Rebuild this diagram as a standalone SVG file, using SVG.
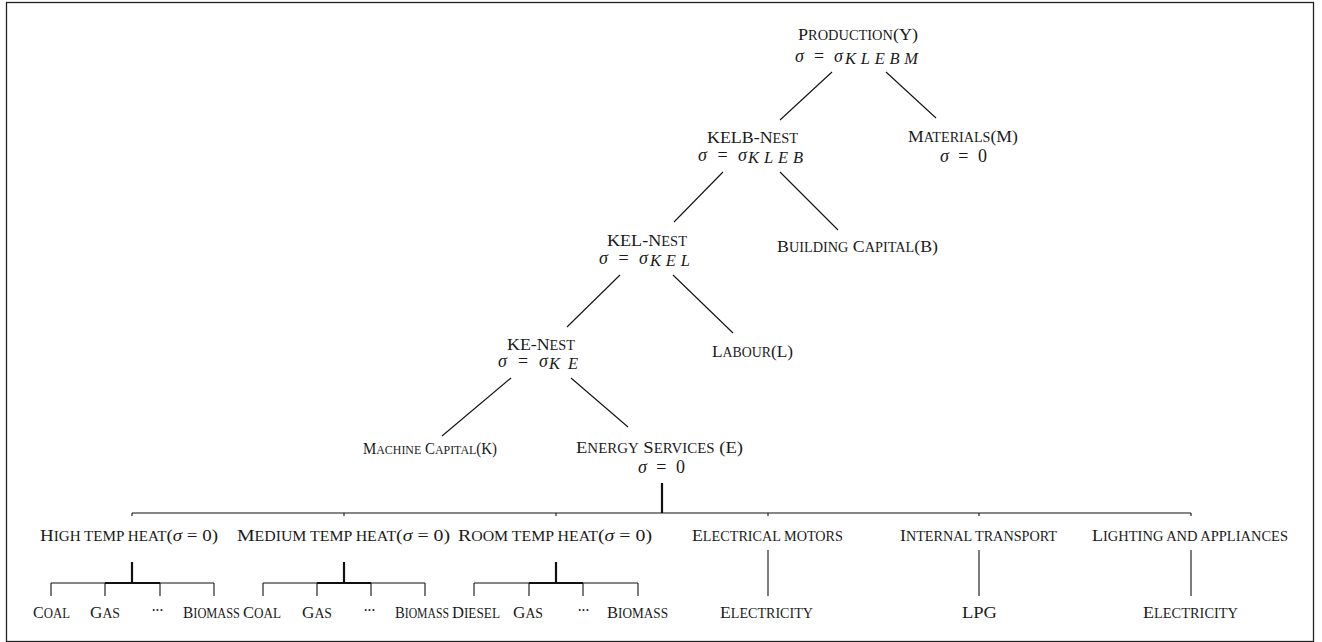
<svg xmlns="http://www.w3.org/2000/svg" width="1322" height="642" viewBox="0 0 1322 642">
<style>
text{font-family:"Liberation Serif","DejaVu Serif",serif;fill:#1a1a1a;}
.n{font-size:17px;}
.k{font-size:13.6px;}
.n2{font-size:16px;}
.k2{font-size:12.8px;}
.m{font-size:18px;}
.s{font-size:16.5px;font-style:italic;}
.i{font-style:italic;}
.d{font-size:16px;}
.c line{stroke:#111;stroke-width:1.1;}
.c .t{stroke-width:2.2;}
</style>
<rect x="6.5" y="2.5" width="1307" height="639" fill="#fff" stroke="#222" stroke-width="1.3"/>
<g class="c" id="connectors">
<line x1="832" y1="72" x2="780" y2="120"/>
<line x1="886" y1="72" x2="936" y2="118"/>
<line x1="723" y1="172" x2="674" y2="222"/>
<line x1="780" y1="172" x2="838" y2="230"/>
<line x1="620" y1="275" x2="567" y2="327"/>
<line x1="673" y1="275" x2="733" y2="333"/>
<line x1="511" y1="378" x2="442" y2="436"/>
<line x1="571" y1="378" x2="628" y2="427"/>
<line class="t" x1="662" y1="483" x2="662" y2="513"/>
<line x1="132" y1="513" x2="1191" y2="513"/>
<line x1="344" y1="513" x2="344" y2="516"/>
<line x1="556" y1="513" x2="556" y2="516"/>
<line x1="768" y1="513" x2="768" y2="516"/>
<line x1="979" y1="513" x2="979" y2="516"/>
<line x1="1191" y1="513" x2="1191" y2="516"/>
<line x1="132" y1="513" x2="132" y2="516"/>
<line class="t" x1="132" y1="562" x2="132" y2="583"/>
<line x1="51" y1="583" x2="214" y2="583"/>
<line class="t" x1="105" y1="583" x2="160" y2="583"/>
<line x1="51" y1="583" x2="51" y2="596"/>
<line x1="105" y1="583" x2="105" y2="596"/>
<line x1="160" y1="583" x2="160" y2="596"/>
<line x1="214" y1="583" x2="214" y2="596"/>
<line class="t" x1="344" y1="562" x2="344" y2="583"/>
<line x1="263" y1="583" x2="425" y2="583"/>
<line class="t" x1="317" y1="583" x2="371" y2="583"/>
<line x1="263" y1="583" x2="263" y2="596"/>
<line x1="317" y1="583" x2="317" y2="596"/>
<line x1="371" y1="583" x2="371" y2="596"/>
<line x1="425" y1="583" x2="425" y2="596"/>
<line class="t" x1="556" y1="562" x2="556" y2="583"/>
<line x1="474" y1="583" x2="638" y2="583"/>
<line class="t" x1="529" y1="583" x2="583" y2="583"/>
<line x1="474" y1="583" x2="474" y2="596"/>
<line x1="529" y1="583" x2="529" y2="596"/>
<line x1="583" y1="583" x2="583" y2="596"/>
<line x1="638" y1="583" x2="638" y2="596"/>
<line x1="768" y1="550" x2="768" y2="596"/>
<line x1="979" y1="550" x2="979" y2="596"/>
<line x1="1191" y1="550" x2="1191" y2="596"/>
</g>
<g id="production">
<text class="n" x="798" y="40" textLength="120" lengthAdjust="spacingAndGlyphs">P<tspan class="k">RODUCTION</tspan>(Y)</text>
<text class="m" x="795" y="62" textLength="48" lengthAdjust="spacing"><tspan class="i">σ</tspan> = <tspan class="i">σ</tspan></text>
<text class="s" x="845" y="64" textLength="73" lengthAdjust="spacing">KLEBM</text>
</g>
<g id="kelb-nest">
<text class="n" x="707" y="143" textLength="91" lengthAdjust="spacingAndGlyphs">KELB-N<tspan class="k">EST</tspan></text>
<text class="m" x="698" y="161" textLength="49" lengthAdjust="spacing"><tspan class="i">σ</tspan> = <tspan class="i">σ</tspan></text>
<text class="s" x="748" y="163" textLength="55" lengthAdjust="spacing">KLEB</text>
</g>
<g id="materials">
<text class="n" x="908" y="142" textLength="110" lengthAdjust="spacingAndGlyphs">M<tspan class="k">ATERIALS</tspan>(M)</text>
<text class="m" x="940" y="162" textLength="47" lengthAdjust="spacing"><tspan class="i">σ</tspan> = 0</text>
</g>
<g id="kel-nest">
<text class="n" x="607" y="246" textLength="80" lengthAdjust="spacingAndGlyphs">KEL-N<tspan class="k">EST</tspan></text>
<text class="m" x="599" y="264" textLength="49" lengthAdjust="spacing"><tspan class="i">σ</tspan> = <tspan class="i">σ</tspan></text>
<text class="s" x="650" y="266" textLength="40" lengthAdjust="spacing">KEL</text>
</g>
<g id="building-capital">
<text class="n" x="777" y="252" textLength="161" lengthAdjust="spacingAndGlyphs">B<tspan class="k">UILDING</tspan> C<tspan class="k">APITAL</tspan>(B)</text>
</g>
<g id="ke-nest">
<text class="n" x="507" y="350" textLength="68" lengthAdjust="spacingAndGlyphs">KE-N<tspan class="k">EST</tspan></text>
<text class="m" x="498" y="367" textLength="50" lengthAdjust="spacing"><tspan class="i">σ</tspan> = <tspan class="i">σ</tspan></text>
<text class="s" x="549" y="369" textLength="29" lengthAdjust="spacing">KE</text>
</g>
<g id="labour">
<text class="n" x="712" y="357" textLength="81" lengthAdjust="spacingAndGlyphs">L<tspan class="k">ABOUR</tspan>(L)</text>
</g>
<g id="machine-capital">
<text class="n2" x="363" y="454" textLength="134" lengthAdjust="spacingAndGlyphs">M<tspan class="k2">ACHINE</tspan> C<tspan class="k2">APITAL</tspan>(K)</text>
</g>
<g id="energy-services">
<text class="n" x="576" y="453" textLength="167" lengthAdjust="spacingAndGlyphs">E<tspan class="k">NERGY</tspan> S<tspan class="k">ERVICES</tspan> (E)</text>
<text class="m" x="638" y="473" textLength="47" lengthAdjust="spacing"><tspan class="i">σ</tspan> = 0</text>
</g>
<g id="high-temp-heat">
<text class="n" x="40" y="541" textLength="178" lengthAdjust="spacingAndGlyphs">H<tspan class="k">IGH TEMP HEAT</tspan>(<tspan class="i">σ</tspan> = 0)</text>
</g>
<g id="medium-temp-heat">
<text class="n" x="237" y="541" textLength="213" lengthAdjust="spacingAndGlyphs">M<tspan class="k">EDIUM TEMP HEAT</tspan>(<tspan class="i">σ</tspan> = 0)</text>
</g>
<g id="room-temp-heat">
<text class="n" x="458" y="541" textLength="194" lengthAdjust="spacingAndGlyphs">R<tspan class="k">OOM TEMP HEAT</tspan>(<tspan class="i">σ</tspan> = 0)</text>
</g>
<g id="electrical-motors">
<text class="n" x="692" y="541" textLength="151" lengthAdjust="spacingAndGlyphs">E<tspan class="k">LECTRICAL MOTORS</tspan></text>
</g>
<g id="internal-transport">
<text class="n" x="900" y="541" textLength="157" lengthAdjust="spacingAndGlyphs">I<tspan class="k">NTERNAL TRANSPORT</tspan></text>
</g>
<g id="lighting-appliances">
<text class="n" x="1092" y="541" textLength="196" lengthAdjust="spacingAndGlyphs">L<tspan class="k">IGHTING AND APPLIANCES</tspan></text>
</g>
<g id="leaves-high">
<text class="n" x="33" y="618" textLength="37" lengthAdjust="spacingAndGlyphs">C<tspan class="k">OAL</tspan></text>
<text class="n" x="90" y="618" textLength="30" lengthAdjust="spacingAndGlyphs">G<tspan class="k">AS</tspan></text>
<text class="d" x="151" y="616" textLength="13" lengthAdjust="spacing">···</text>
<text class="n" x="183" y="618" textLength="57" lengthAdjust="spacingAndGlyphs">B<tspan class="k">IOMASS</tspan></text>
</g>
<g id="leaves-medium">
<text class="n" x="243" y="618" textLength="38" lengthAdjust="spacingAndGlyphs">C<tspan class="k">OAL</tspan></text>
<text class="n" x="302" y="618" textLength="30" lengthAdjust="spacingAndGlyphs">G<tspan class="k">AS</tspan></text>
<text class="d" x="363" y="616" textLength="13" lengthAdjust="spacing">···</text>
<text class="n" x="395" y="618" textLength="54" lengthAdjust="spacingAndGlyphs">B<tspan class="k">IOMASS</tspan></text>
</g>
<g id="leaves-room">
<text class="n" x="452" y="618" textLength="48" lengthAdjust="spacingAndGlyphs">D<tspan class="k">IESEL</tspan></text>
<text class="n" x="513" y="618" textLength="30" lengthAdjust="spacingAndGlyphs">G<tspan class="k">AS</tspan></text>
<text class="d" x="577" y="616" textLength="13" lengthAdjust="spacing">···</text>
<text class="n" x="607" y="618" textLength="61" lengthAdjust="spacingAndGlyphs">B<tspan class="k">IOMASS</tspan></text>
</g>
<g id="leaf-motors">
<text class="n" x="720" y="618" textLength="93" lengthAdjust="spacingAndGlyphs">E<tspan class="k">LECTRICITY</tspan></text>
</g>
<g id="leaf-transport">
<text class="n" x="962" y="618" textLength="35" lengthAdjust="spacingAndGlyphs">LPG</text>
</g>
<g id="leaf-lighting">
<text class="n" x="1143" y="618" textLength="95" lengthAdjust="spacingAndGlyphs">E<tspan class="k">LECTRICITY</tspan></text>
</g>
</svg>
